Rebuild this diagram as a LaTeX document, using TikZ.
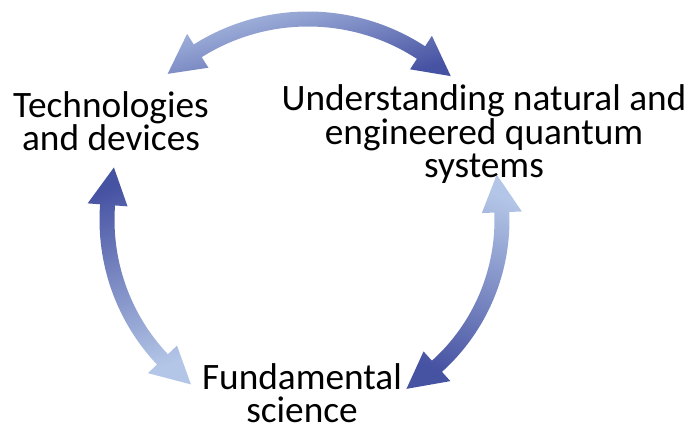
\documentclass[tikz,border=0pt]{standalone}
\usepackage{fontspec}
\setmainfont{Carlito}
\definecolor{arrlight}{RGB}{180,198,231}
\definecolor{arrdark}{RGB}{70,82,162}
\newcommand\qarrow[6]{%
  \pgfmathsetmacro\qs{ifthenelse(#5>#4,1,-1)}%
  \pgfmathsetmacro\qd{38/#3*180/pi}%
  \pgfmathsetmacro\qb{#4+\qd*\qs}%
  \pgfmathsetmacro\qe{#5-\qd*\qs}%
  \pgfmathsetmacro\qro{#3+7.5}%
  \pgfmathsetmacro\qri{#3-7.5}%
  \pgfmathsetmacro\qho{#3+20}%
  \pgfmathsetmacro\qhi{#3-20}%
  \shade[#6, shift={(#1,#2)}] (#4:#3) -- (\qb:\qho) -- (\qb:\qro)
    arc[start angle=\qb, end angle=\qe, radius=\qro] -- (\qe:\qho) -- (#5:#3)
    -- (\qe:\qhi) -- (\qe:\qri)
    arc[start angle=\qe, end angle=\qb, radius=\qri] -- (\qb:\qhi) -- cycle;
}
\begin{document}
\begin{tikzpicture}[x=1pt,y=1pt,
  lbl/.style={font=\fontsize{37.3}{33.5}\selectfont, align=center, inner sep=0pt, text=black}]
\useasboundingbox (0,0) rectangle (692,435);
% top arrow
\qarrow{308}{209}{207}{132.7}{46.4}{top color=arrlight, bottom color=arrdark, shading angle=15}
% left arrow
\qarrow{310}{215}{203}{165}{234.1}{top color=arrdark, bottom color=arrlight, shading angle=20}
% right arrow
\qarrow{305}{215}{197}{13.3}{-59}{top color=arrlight, bottom color=arrdark, shading angle=-22}
\node[lbl, anchor=base] (tech) at (111,284) {Technologies\\and devices};
\node[lbl, anchor=base] (under) at (484,257) {Understanding natural and\\engineered quantum\\systems};
\node[lbl, anchor=base] (fund) at (302,12) {Fundamental\\science};
\end{tikzpicture}
\end{document}
